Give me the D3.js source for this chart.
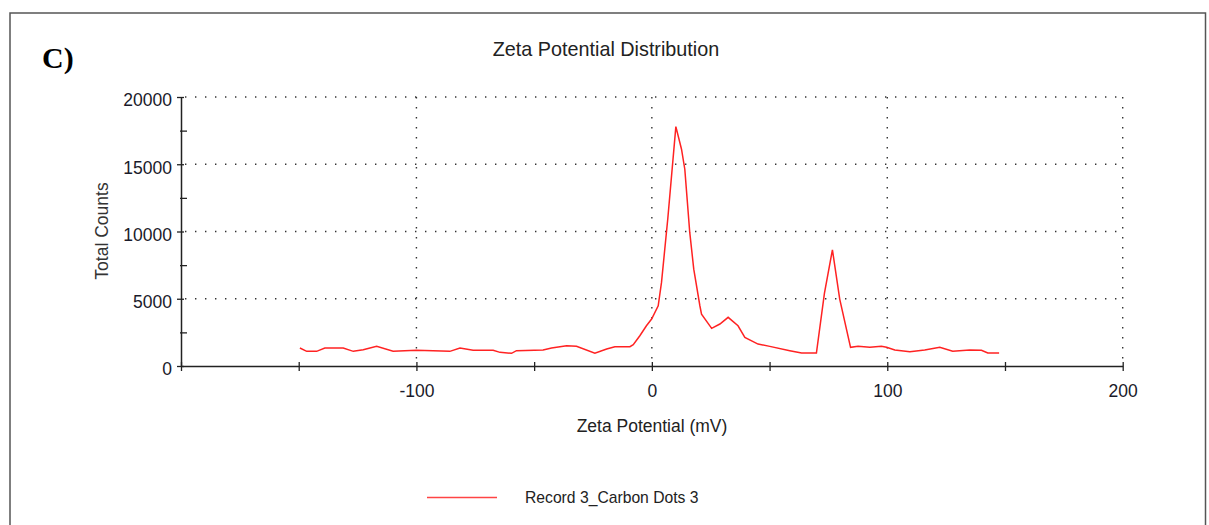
<!DOCTYPE html>
<html>
<head>
<meta charset="utf-8">
<script src="https://cdn.jsdelivr.net/npm/d3@7"></script>
<style>
  html, body { margin: 0; padding: 0; background: #fff; }
  svg { display: block; }
  text { font-family: "Liberation Sans", Arial, sans-serif; }
</style>
</head>
<body>
<svg id="chart" width="1209" height="525"></svg>
<script>
// ---- data ----
const panelLabel = "C)";
const chartTitle = "Zeta Potential Distribution";
const xTitle = "Zeta Potential (mV)";
const yTitle = "Total Counts";
const seriesName = "Record 3_Carbon Dots 3";

const zeta = [-149.5, -146.6, -142.4, -138.9, -131.1, -126.8, -122.6, -116.9, -109.9, -100, -85.8, -81.5,
  -75.9, -67.4, -64.5, -59.6, -57.5, -46.2, -42.6, -36.2, -32, -24.2, -19.2, -15.7, -9.3, -7.9, -5.1,
  -2.3, -0.1, 2.7, 4.1, 6.8, 10.2, 12.6, 14.0, 16.1, 17.8, 20.4, 21.1, 25.4, 28.9, 32.4, 36.6, 39.5,
  45.1, 50.1, 58.6, 63.6, 69.9, 73.3, 76.7, 79.8, 84.4, 87.6, 92.6, 97.5, 99.7, 103.2, 109.6, 115.9,
  122.3, 127.8, 135, 140, 142.7, 147.5];
const counts = [1337, 1090, 1090, 1337, 1337, 1090, 1213, 1460, 1090, 1164, 1090, 1337,
  1164, 1164, 1015, 943, 1137, 1188, 1337, 1508, 1463, 943, 1263, 1433, 1433, 1582, 2250,
  2993, 3490, 4480, 6215, 11000, 17800, 16116, 14630, 9930, 7200, 4480, 3860, 2800, 3120, 3620, 2990, 2130,
  1630, 1460, 1140, 965, 965, 5400, 8640, 4976, 1390, 1460, 1390, 1460, 1390, 1188, 1062, 1188,
  1389, 1090, 1188, 1166, 965, 965];

const xDomain = [-200, 200];
const yDomain = [0, 20000];
const xMajorTicks = [-100, 0, 100, 200];
const xMinorTicks = [-200, -150, -50, 50, 150];
const yMajorTicks = [0, 5000, 10000, 15000, 20000];
const yMinorTicks = [2500, 7500, 12500, 17500];

// ---- drawing ----
const svg = d3.select("#chart");
const x = d3.scaleLinear().domain(xDomain).range([181, 1122.7]);
const y = d3.scaleLinear().domain(yDomain).range([366, 97]);
const plainFormat = d => String(d);

// outer frame
svg.append("rect").attr("x", 10).attr("y", 13).attr("width", 1195.5).attr("height", 530)
  .attr("fill", "none").attr("stroke", "#555").attr("stroke-width", 1.5);

svg.append("text").attr("x", 42).attr("y", 68)
  .style("font-family", "'Liberation Serif', 'Times New Roman', serif")
  .style("font-weight", "bold").style("font-size", "30px").attr("fill", "#000")
  .text(panelLabel);

svg.append("text").attr("x", 606).attr("y", 56).attr("text-anchor", "middle")
  .style("font-size", "19.8px").attr("fill", "#222").text(chartTitle);

// grid
const grid = svg.append("g").attr("stroke", "#333").attr("stroke-width", 1.4)
  .attr("stroke-dasharray", "1.4 8.6");
grid.selectAll("line.h").data(yMajorTicks.filter(d => d > 0)).enter().append("line")
  .attr("x1", x(xDomain[0]) + 4).attr("x2", x(xDomain[1]))
  .attr("y1", d => y(d)).attr("y2", d => y(d));
grid.selectAll("line.v").data(xMajorTicks).enter().append("line")
  .attr("x1", d => x(d)).attr("x2", d => x(d))
  .attr("y1", y(yDomain[1])).attr("y2", y(0) - 4);

// axes
const yAxisMajor = d3.axisLeft(y).tickValues(yMajorTicks).tickSizeInner(4).tickSizeOuter(0)
  .tickPadding(5).tickFormat(plainFormat);
const gy = svg.append("g").attr("transform", `translate(${x(xDomain[0])},0)`).call(yAxisMajor);
gy.select(".domain").attr("stroke", "#222").attr("stroke-width", 1.5);
gy.selectAll(".tick line").attr("x2", -4).attr("x1", 3).attr("stroke", "#222").attr("stroke-width", 1.3);
gy.selectAll(".tick text").style("font-size", "17.5px").attr("fill", "#1a1a2a")
  .attr("dy", "0.5em").attr("font-family", null);
const gyMinor = svg.append("g").attr("transform", `translate(${x(xDomain[0])},0)`)
  .call(d3.axisRight(y).tickValues(yMinorTicks).tickSize(6).tickFormat(""));
gyMinor.select(".domain").remove();
gyMinor.selectAll(".tick line").attr("x1", -1).attr("stroke", "#222").attr("stroke-width", 1.3);

const xAxisMajor = d3.axisBottom(x).tickValues(xMajorTicks).tickSizeInner(5).tickSizeOuter(0)
  .tickPadding(14).tickFormat(plainFormat);
const gx = svg.append("g").attr("transform", `translate(0,${y(0)})`).call(xAxisMajor);
gx.select(".domain").attr("stroke", "#222").attr("stroke-width", 1.5);
gx.selectAll(".tick line").attr("y1", -4).attr("stroke", "#222").attr("stroke-width", 1.3);
gx.selectAll(".tick text").style("font-size", "17.5px").attr("fill", "#1a1a2a").attr("font-family", null);
const gxMinor = svg.append("g").attr("transform", `translate(0,${y(0)})`)
  .call(d3.axisBottom(x).tickValues(xMinorTicks).tickSize(5).tickFormat(""));
gxMinor.select(".domain").remove();
gxMinor.selectAll(".tick line").attr("y1", -4).attr("stroke", "#222").attr("stroke-width", 1.3);
svg.selectAll(".tick text").style("font-family", "'Liberation Sans', Arial, sans-serif");

// axis titles
svg.append("text").attr("x", 652).attr("y", 432).attr("text-anchor", "middle")
  .style("font-size", "17.5px").attr("fill", "#222").text(xTitle);
svg.append("text").attr("transform", "translate(108,231) rotate(-90)").attr("text-anchor", "middle")
  .style("font-size", "17.5px").attr("fill", "#333").text(yTitle);

// series line
const line = d3.line().x((d, i) => x(zeta[i])).y(d => y(d));
svg.append("path").datum(counts).attr("d", line)
  .attr("fill", "none").attr("stroke", "#ff2222").attr("stroke-width", 1.5)
  .attr("stroke-linejoin", "miter");

// legend
svg.append("line").attr("x1", 427).attr("x2", 497).attr("y1", 497.5).attr("y2", 497.5)
  .attr("stroke", "#ff4444").attr("stroke-width", 1.5);
svg.append("text").attr("x", 525).attr("y", 503).style("font-size", "15.7px").attr("fill", "#222")
  .text(seriesName);
</script>
</body>
</html>
